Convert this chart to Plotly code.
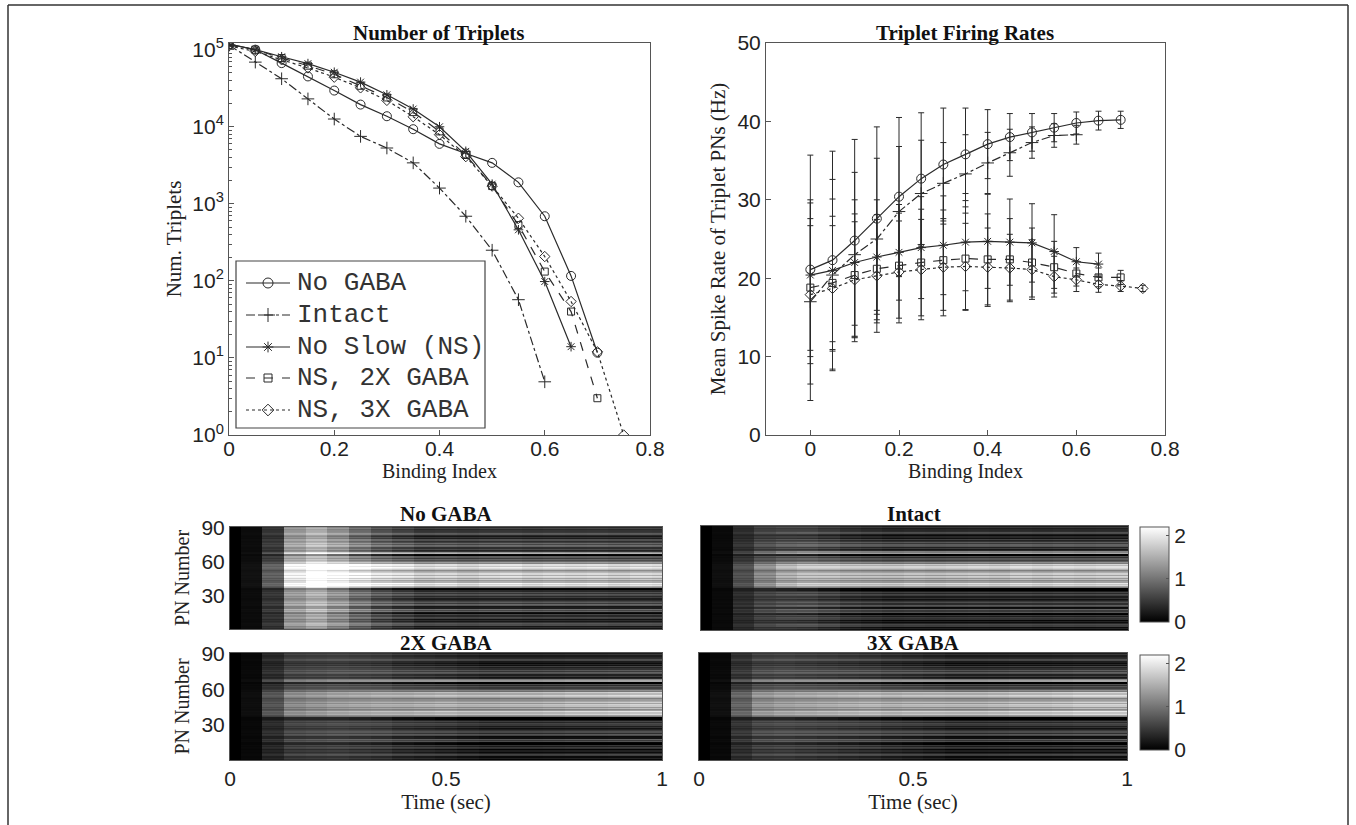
import plotly.graph_objects as go

W, H = 1356, 825

# ---------------- data: Number of Triplets ----------------
binding = [0.0, 0.05, 0.1, 0.15, 0.2, 0.25, 0.3, 0.35, 0.4, 0.45, 0.5, 0.55, 0.6, 0.65, 0.7, 0.75]

trip_nogaba = [1.18e5, 1.0e5, 6.7e4, 4.5e4, 2.95e4, 1.94e4, 1.37e4, 9.3e3, 6.0e3, 4.5e3, 3.4e3, 1.9e3, 690, 116, 11.7]
trip_intact = [1.15e5, 6.9e4, 4.2e4, 2.3e4, 1.26e4, 7.5e3, 5.3e3, 3.4e3, 1.6e3, 690, 250, 57, 4.9]
trip_ns = [1.18e5, 1.0e5, 8.1e4, 6.6e4, 5.1e4, 3.8e4, 2.6e4, 1.7e4, 1.0e4, 4.8e3, 1.8e3, 460, 98, 14]
trip_ns2x = [1.15e5, 1.0e5, 7.8e4, 6.2e4, 4.8e4, 3.4e4, 2.4e4, 1.55e4, 8.7e3, 4.3e3, 1.7e3, 530, 132, 40, 3]
trip_ns3x = [1.12e5, 9.5e4, 7.4e4, 5.8e4, 4.4e4, 3.2e4, 2.2e4, 1.35e4, 7.9e3, 4.1e3, 1.7e3, 650, 207, 54, 12, 1]

# ---------------- data: Triplet Firing Rates (mean, error) ----------------
rate_nogaba = [21.1, 22.3, 24.8, 27.6, 30.4, 32.7, 34.5, 35.8, 37.1, 38.0, 38.6, 39.2, 39.8, 40.1, 40.2]
err_nogaba = [14.6, 13.9, 12.9, 11.7, 10.1, 8.4, 7.2, 5.9, 4.4, 3.0, 2.4, 1.8, 1.4, 1.2, 1.1]
rate_intact = [17.0, 20.4, 23.0, 25.0, 28.5, 30.8, 32.1, 33.3, 34.7, 36.0, 37.3, 38.2, 38.3]
err_intact = [12.6, 12.2, 10.5, 10.3, 8.3, 6.8, 5.2, 5.0, 3.9, 3.0, 2.0, 1.5, 1.2]
rate_ns = [20.4, 21.0, 22.0, 22.7, 23.3, 23.9, 24.2, 24.6, 24.7, 24.6, 24.5, 23.4, 22.1, 21.8]
err_ns = [9.6, 9.1, 8.0, 7.3, 6.1, 6.5, 6.3, 6.2, 6.0, 5.5, 5.0, 4.7, 1.8, 1.4]
rate_ns2x = [18.8, 19.4, 20.4, 21.2, 21.6, 22.0, 22.3, 22.5, 22.4, 22.4, 22.0, 21.4, 20.6, 20.1, 20.1]
err_ns2x = [8.8, 8.5, 7.8, 6.9, 6.7, 6.8, 6.4, 6.6, 5.8, 5.2, 4.4, 3.3, 1.6, 1.2, 0.9]
rate_ns3x = [17.9, 18.7, 19.8, 20.3, 20.8, 21.1, 21.4, 21.5, 21.4, 21.3, 21.1, 20.2, 19.8, 19.2, 19.0, 18.7]
err_ns3x = [8.8, 8.0, 7.4, 7.2, 6.5, 6.4, 6.2, 5.5, 5.0, 4.3, 3.8, 2.6, 1.5, 1.0, 0.7, 0.4]

# ---------------- data: heatmaps ----------------
time_bins = [0.0, 0.05, 0.1, 0.15, 0.2, 0.25, 0.3, 0.35, 0.4, 0.45, 0.5,
             0.55, 0.6, 0.65, 0.7, 0.75, 0.8, 0.85, 0.9, 0.95, 1.0]
pn_numbers = list(range(1, 91))
# steady-state level of each PN (PN 1 .. 90)
pn_level = [0.15, 0.4, 0.2, 0.65, 0.75, 0.45, 0.2, 0.4, 0.15, 0.55,
            0.65, 0.35, 0.6, 0.05, 0.15, 0.85, 0.6, 0.95, 0.25, 0.2,
            0.75, 0.9, 0.5, 0.8, 0.6, 0.4, 0.25, 0.55, 0.35, 0.65,
            0.75, 0.45, 0.7, 0.35, 0.02, 0.05, 1.2, 1.5, 2.0, 1.8,
            2.1, 1.5, 1.3, 1.75, 1.4, 1.85, 1.95, 1.5, 1.9, 1.6,
            1.45, 1.2, 1.65, 1.9, 2.05, 1.7, 1.95, 1.15, 1.35, 0.9,
            0.65, 0.85, 0.5, 0.8, 0.02, 0.08, 1.55, 1.25, 0.45, 0.3,
            0.65, 0.4, 0.85, 0.95, 0.6, 0.9, 0.55, 0.4, 0.7, 0.25,
            0.45, 0.2, 0.35, 0.75, 0.8, 0.5, 0.45, 0.35, 0.6, 0.35]
# temporal gain and uniform onset transient per condition
gain_nogaba = [0, 0.04, 0.3, 0.6, 0.7, 0.8, 0.9, 0.95, 1.0, 0.97, 1.0, 0.95, 1.0, 1.02, 0.97, 1.0, 0.98, 1.0, 0.96, 1.0, 0.98]
onset_nogaba = [0, 0.08, 0.3, 1.0, 1.15, 0.85, 0.5, 0.25, 0.1, 0, 0, 0, 0, 0, 0, 0, 0, 0, 0, 0, 0]
gain_intact = [0, 0.04, 0.25, 0.5, 0.7, 0.8, 0.85, 0.88, 0.9, 0.92, 0.95, 0.93, 0.95, 0.97, 0.95, 1.0, 0.97, 1.0, 0.98, 1.0, 1.0]
onset_intact = [0, 0.06, 0.25, 0.3, 0.25, 0.2, 0.1, 0.0, -0.05, -0.1, -0.1, -0.1, -0.1, -0.1, -0.1, -0.1, -0.1, -0.1, -0.1, -0.1, -0.1]
gain_2x = [0, 0.04, 0.3, 0.5, 0.55, 0.6, 0.65, 0.7, 0.75, 0.8, 0.85, 0.85, 0.88, 0.9, 0.9, 0.92, 0.95, 0.95, 0.97, 1.0, 1.0]
onset_2x = [0, 0.05, 0.2, 0.3, 0.3, 0.3, 0.25, 0.2, 0.1, 0.05, 0, -0.05, -0.1, -0.1, -0.1, -0.1, -0.1, -0.1, -0.1, -0.1, -0.1]
gain_3x = [0, 0.05, 0.35, 0.55, 0.6, 0.65, 0.7, 0.75, 0.8, 0.8, 0.85, 0.88, 0.9, 0.9, 0.92, 0.95, 0.95, 0.97, 1.0, 1.0, 1.0]
onset_3x = [0, 0.05, 0.25, 0.3, 0.3, 0.25, 0.2, 0.15, 0.1, 0.05, 0, -0.05, -0.1, -0.1, -0.1, -0.1, -0.1, -0.1, -0.1, -0.1, -0.1]

# ---------------- helpers ----------------
def dom_x(a, b):
    return [a / W, b / W]

def dom_y(top, bottom):
    return [1 - bottom / H, 1 - top / H]

def build(gain, onset):
    return [[max(0.0, lvl * g + o) for g, o in zip(gain, onset)] for lvl in pn_level]

SANS = "Liberation Sans, Arial, sans-serif"
SERIF = "Liberation Serif, Times New Roman, serif"
MONO = "Liberation Mono, Courier New, monospace"
LC = "#2a2a2a"
AX = "#555555"

fig = go.Figure()

styles = [
    ("No GABA", "solid", "circle-open", 9),
    ("Intact", "dashdot", "cross-thin-open", 9),
    ("No Slow (NS)", "solid", "asterisk-open", 8),
    ("NS, 2X GABA", "dash", "square-open", 7),
    ("NS, 3X GABA", "dot", "diamond-open", 8),
]
trip_series = [trip_nogaba, trip_intact, trip_ns, trip_ns2x, trip_ns3x]
rate_series = [rate_nogaba, rate_intact, rate_ns, rate_ns2x, rate_ns3x]
err_series = [err_nogaba, err_intact, err_ns, err_ns2x, err_ns3x]

for (name, dash, sym, sz), vals in zip(styles, trip_series):
    fig.add_trace(go.Scatter(
        x=binding[:len(vals)], y=vals, name=name, mode="lines+markers",
        line=dict(color=LC, width=1.2, dash=dash),
        marker=dict(symbol=sym, size=sz, color=LC, line=dict(color=LC, width=1)),
        xaxis="x", yaxis="y", showlegend=False))

for (name, dash, sym, sz), vals, errs in zip(styles, rate_series, err_series):
    fig.add_trace(go.Scatter(
        x=binding[:len(vals)], y=vals, name=name, mode="lines+markers",
        line=dict(color=LC, width=1.2, dash=dash),
        marker=dict(symbol=sym, size=sz, color=LC, line=dict(color=LC, width=1)),
        error_y=dict(type="data", array=errs, visible=True, color=LC, thickness=1, width=3),
        xaxis="x2", yaxis="y2", showlegend=False))

heat_specs = [
    (build(gain_nogaba, onset_nogaba), "x3", "y3", "coloraxis"),
    (build(gain_intact, onset_intact), "x4", "y4", "coloraxis"),
    (build(gain_2x, onset_2x), "x5", "y5", "coloraxis2"),
    (build(gain_3x, onset_3x), "x6", "y6", "coloraxis2"),
]
for z, xa, ya, ca in heat_specs:
    fig.add_trace(go.Heatmap(z=z, x=time_bins, y=pn_numbers, xaxis=xa, yaxis=ya,
                             coloraxis=ca, hoverinfo="skip"))

# ---- hand-drawn legend (MATLAB style) on a pixel-space overlay axis ----
LEG_BOX = (236, 261, 485, 428)
leg_row_y = [283, 315, 347, 378, 410]
for (name, dash, sym, sz), yc in zip(styles, leg_row_y):
    fig.add_trace(go.Scatter(x=[246, 290], y=[yc, yc], mode="lines",
                             line=dict(color=LC, width=1.2, dash=dash),
                             xaxis="x7", yaxis="y7", showlegend=False, hoverinfo="skip"))
    fig.add_trace(go.Scatter(x=[268], y=[yc], mode="markers",
                             marker=dict(symbol=sym, size=sz + 1, color=LC, line=dict(color=LC, width=1)),
                             xaxis="x7", yaxis="y7", showlegend=False, hoverinfo="skip"))
    fig.add_annotation(text=name, x=295, y=yc, xref="x7", yref="y7", showarrow=False,
                       xanchor="left", yanchor="middle",
                       font=dict(family=MONO, size=26, color="#333"))
fig.add_shape(type="rect", xref="x7", yref="y7", x0=LEG_BOX[0], y0=LEG_BOX[1], x1=LEG_BOX[2], y1=LEG_BOX[3],
              line=dict(color="#444", width=1.2))

TICKF = dict(family=SANS, size=21, color="#222")

def axis_common(**kw):
    d = dict(showline=True, linecolor=AX, linewidth=1, mirror=True, automargin=False,
             ticks="inside", ticklen=5, tickcolor=AX, showgrid=False, zeroline=False,
             tickfont=TICKF)
    d.update(kw)
    return d

title_font = dict(family=SERIF, size=20, color="#222")

dec_vals = [1, 10, 100, 1000, 10000, 100000]
dec_text = ["10<sup>0</sup>", "10<sup>1</sup>", "10<sup>2</sup>", "10<sup>3</sup>", "10<sup>4</sup>", "10<sup>5</sup>"]
minor_vals = [m * 10 ** e for e in range(0, 5) for m in range(2, 10)]

cbar_common = dict(x=1140 / W, xanchor="left", xpad=0, yanchor="top", ypad=0,
                   len=95, lenmode="pixels", thickness=29, thicknessmode="pixels",
                   outlinecolor=AX, outlinewidth=1, tickvals=[0, 1, 2],
                   ticks="inside", ticklen=3, tickcolor=AX, tickfont=TICKF)

layout = dict(
    width=W, height=H,
    margin=dict(l=0, r=0, t=0, b=0, autoexpand=False),
    paper_bgcolor="white", plot_bgcolor="rgba(0,0,0,0)",
    showlegend=False,
    xaxis=axis_common(domain=dom_x(229, 650), range=[0, 0.8],
                      tickvals=[0, 0.2, 0.4, 0.6, 0.8], ticktext=["0", "0.2", "0.4", "0.6", "0.8"],
                      ticklabelstandoff=-5,
                      title=dict(text="Binding Index", font=title_font, standoff=0),
                      anchor="y"),
    yaxis=axis_common(domain=dom_y(43, 435), type="log", range=[0, 5.087],
                      tickvals=dec_vals, ticktext=dec_text,
                      minor=dict(tickvals=minor_vals, ticks="inside", ticklen=3, tickcolor=AX),
                      title=dict(text="Num. Triplets", font=dict(family=SERIF, size=21, color="#222"), standoff=4),
                      anchor="x"),
    xaxis2=axis_common(domain=dom_x(766, 1165), range=[-0.1, 0.8],
                       tickvals=[0, 0.2, 0.4, 0.6, 0.8], ticktext=["0", "0.2", "0.4", "0.6", "0.8"],
                       ticklabelstandoff=-5,
                       title=dict(text="Binding Index", font=title_font, standoff=0),
                       anchor="y2"),
    yaxis2=axis_common(domain=dom_y(43, 435), range=[0, 50],
                       tickvals=[0, 10, 20, 30, 40, 50],
                       title=dict(text="Mean Spike Rate of Triplet PNs (Hz)",
                                  font=dict(family=SERIF, size=21, color="#222"), standoff=6),
                       anchor="x2"),
    xaxis7=dict(domain=[0, 1], range=[0, W], visible=False, anchor="y7", fixedrange=True),
    yaxis7=dict(domain=[0, 1], range=[H, 0], visible=False, anchor="x7", fixedrange=True),
    coloraxis=dict(colorscale=[[0, "black"], [1, "white"]], cmin=0, cmax=2.2,
                   colorbar=dict(cbar_common, y=1 - 527 / H)),
    coloraxis2=dict(colorscale=[[0, "black"], [1, "white"]], cmin=0, cmax=2.2,
                    colorbar=dict(cbar_common, y=1 - 655 / H)),
)

heat_axes = {
    "3": (dom_x(230, 662), dom_y(527, 629), False, True),
    "4": (dom_x(701, 1128), dom_y(526, 630), False, False),
    "5": (dom_x(230, 662), dom_y(653, 760), True, True),
    "6": (dom_x(699, 1127), dom_y(653, 760), True, False),
}
for k, (dx, dy, show_x, show_y) in heat_axes.items():
    layout["xaxis" + k] = axis_common(
        domain=dx, range=[0, 1], anchor="y" + k, ticks="",
        tickvals=[0, 0.5, 1], ticktext=["0", "0.5", "1"], showticklabels=show_x,
        title=dict(text="Time (sec)" if show_x else "", font=dict(family=SERIF, size=21, color="#222"), standoff=2))
    layout["yaxis" + k] = axis_common(
        domain=dy, range=[0.5, 90.5], anchor="x" + k, ticks="",
        tickvals=[30, 60, 90], showticklabels=show_y,
        title=dict(text="PN Number" if show_y else "", font=dict(family=SERIF, size=20, color="#222"), standoff=6))

fig.update_layout(**layout)

ann_font = dict(family=SERIF, size=21, color="#111")
titles = [
    ("<b>Number of Triplets</b>", (229 + 650) / 2, 33),
    ("<b>Triplet Firing Rates</b>", (766 + 1165) / 2, 33),
    ("<b>No GABA</b>", 446, 514),
    ("<b>Intact</b>", 914, 514),
    ("<b>2X GABA</b>", 446, 643),
    ("<b>3X GABA</b>", 913, 643),
]
for txt, px, py in titles:
    fig.add_annotation(text=txt, x=px / W, y=1 - py / H, xref="paper", yref="paper",
                       showarrow=False, xanchor="center", yanchor="middle", font=ann_font)

# outer frame of the figure
fig.add_shape(type="line", xref="paper", yref="paper", x0=8 / W, x1=1348 / W, y0=1 - 5 / H, y1=1 - 5 / H,
              line=dict(color="#333", width=1.5))
fig.add_shape(type="line", xref="paper", yref="paper", x0=8 / W, x1=8 / W, y0=0, y1=1 - 5 / H,
              line=dict(color="#333", width=1.5))
fig.add_shape(type="line", xref="paper", yref="paper", x0=1348 / W, x1=1348 / W, y0=0, y1=1 - 5 / H,
              line=dict(color="#333", width=1.5))

fig.write_html("out.html", post_script="document.body.style.margin='0px';",
               config={"displayModeBar": False})
